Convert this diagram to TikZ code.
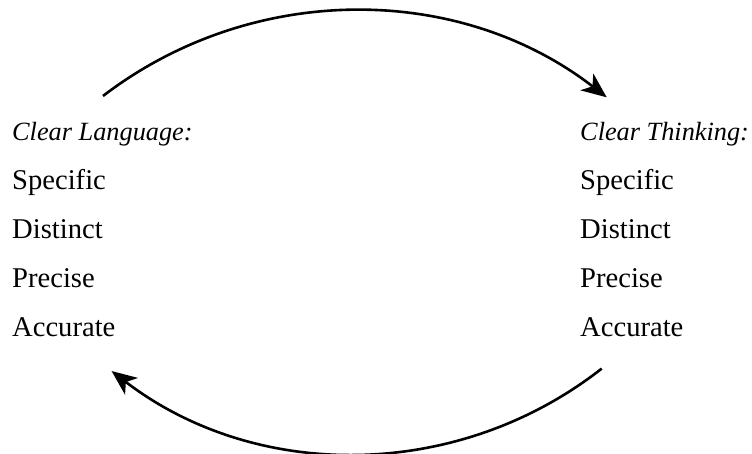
\documentclass[tikz,border=0pt]{standalone}
\usepackage{fontspec}
\setmainfont{Liberation Serif}
\usetikzlibrary{arrows.meta}
\begin{document}
\begin{tikzpicture}[x=1pt,y=1pt,
  item/.style={anchor=base west,inner sep=0pt,font=\fontsize{28.6}{33}\selectfont},
  head/.style={item,font=\fontsize{26.3}{31}\selectfont\itshape},
  cycle/.style={line width=2.6pt,-{Stealth[length=25pt,width=21pt,inset=7pt]}}]
\useasboundingbox (0,0) rectangle (752,454);
% left column
\node[head] (lhead) at (12,313) {Clear Language:};
\node[item] (l1) at (12,264) {Specific};
\node[item] (l2) at (12,215) {Distinct};
\node[item] (l3) at (12,166) {Precise};
\node[item] (l4) at (12,117) {Accurate};
% right column
\node[head] (rhead) at (580,313) {Clear Thinking:};
\node[item] (r1) at (580,264) {Specific};
\node[item] (r2) at (580,215) {Distinct};
\node[item] (r3) at (580,166) {Precise};
\node[item] (r4) at (580,117) {Accurate};
% arc end points
\coordinate (topstart) at (103,358);
\coordinate (botstart) at (601.7,85.4);
% upper arc: language -> thinking
\draw[cycle] (topstart) arc[start angle=127.44,end angle=52.26,radius=412.9];
% lower arc: thinking -> language
\draw[cycle] (botstart) arc[start angle=-51.93,end angle=-127.5,radius=400];
\end{tikzpicture}
\end{document}
